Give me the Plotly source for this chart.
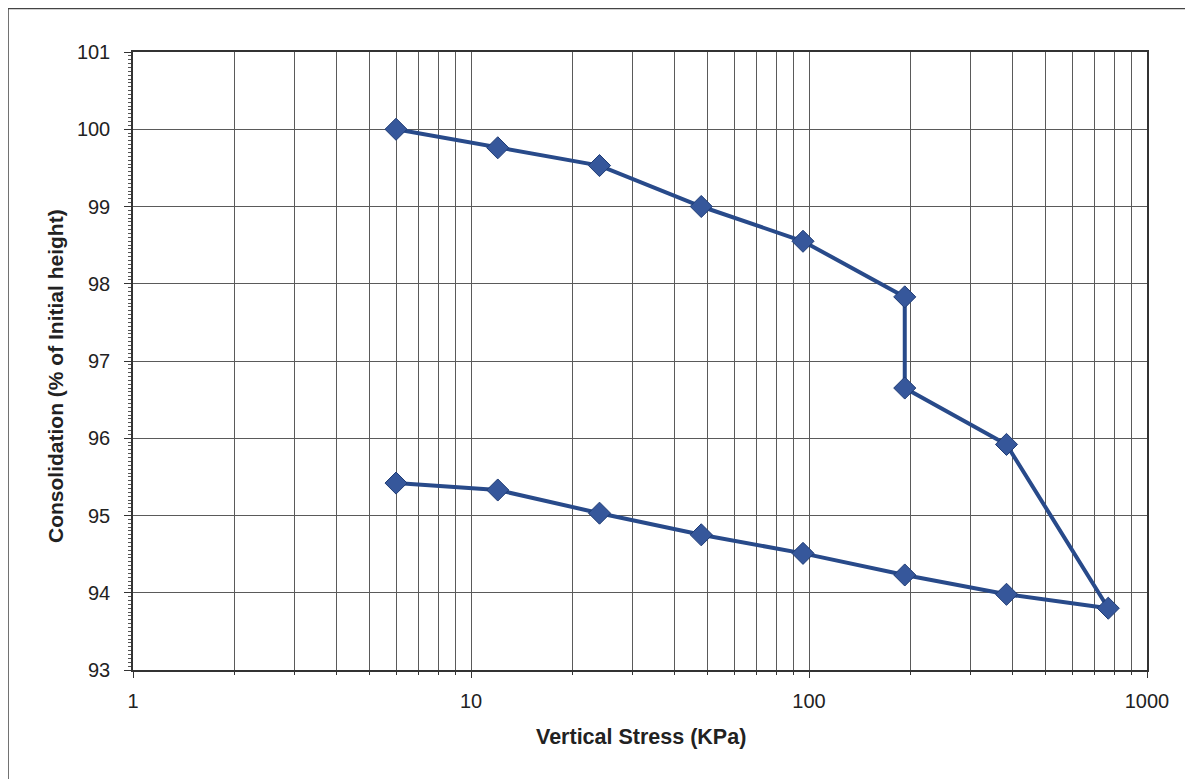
import plotly.graph_objects as go

stress = [6, 12, 24, 48, 96, 192, 192, 384, 768, 384, 192, 96, 48, 24, 12, 6]
consolidation = [100.0, 99.76, 99.53, 99.0, 98.55, 97.83, 96.65, 95.92, 93.8,
                 93.98, 94.23, 94.51, 94.75, 95.03, 95.33, 95.42]

x_major = [1, 10, 100, 1000]
x_minor = [2, 3, 4, 5, 6, 7, 8, 9, 20, 30, 40, 50, 60, 70, 80, 90,
           200, 300, 400, 500, 600, 700, 800, 900]
y_ticks = [93, 94, 95, 96, 97, 98, 99, 100, 101]

x_title = "Vertical Stress (KPa)"
y_title = "Consolidation (% of Initial height)"

# the page body adds an 8px offset; layout is in figure coordinates
W, H = 1193, 779
L, T = 125, 44
R = W - (1147 - 8)
B = H - (670 - 8)
pw, ph = W - L - R, H - T - B


def px_to_paper_x(px):
    return (px - 8 - L) / pw


def px_to_paper_y(py):
    return (H - B - (py - 8)) / ph


fig = go.Figure()
fig.add_trace(go.Scatter(
    x=stress, y=consolidation, mode="lines+markers",
    line=dict(color="#284A8A", width=4),
    marker=dict(symbol="diamond", size=17, color="#36579B",
                line=dict(color="#1F3C75", width=1)),
    showlegend=False,
))

grid = "#5a5a5a"
fig.update_layout(
    width=W, height=H,
    margin=dict(l=L, r=R, t=T, b=B),
    paper_bgcolor="white", plot_bgcolor="white",
    font=dict(family="Liberation Sans, Arial, sans-serif", size=20, color="#222"),
    xaxis=dict(
        type="log", range=[0, 3],
        tickmode="array", tickvals=x_major, ticktext=[str(v) for v in x_major],
        showgrid=True, gridcolor=grid, gridwidth=1,
        ticks="outside", ticklen=6, tickcolor="#333", ticklabelstandoff=6,
        showline=True, linecolor="#333", linewidth=1.5, mirror=True,
        minor=dict(tickmode="array", tickvals=x_minor, showgrid=True,
                   gridcolor=grid, gridwidth=1, ticks="outside", ticklen=3,
                   tickcolor="#333"),
        zeroline=False,
    ),
    yaxis=dict(
        range=[93, 101], tickmode="array", tickvals=y_ticks,
        showgrid=True, gridcolor=grid, gridwidth=1,
        ticks="outside", ticklen=7, tickcolor="#333", ticklabelstandoff=10,
        showline=True, linecolor="#333", linewidth=1.5, mirror=True,
        minor=dict(dtick=0.05, ticks="outside", ticklen=3, tickcolor="#555",
                   showgrid=False),
        zeroline=False,
    ),
    annotations=[
        dict(text="<b>" + x_title + "</b>", xref="paper", yref="paper",
             x=px_to_paper_x(641), y=px_to_paper_y(737),
             xanchor="center", yanchor="middle", showarrow=False,
             font=dict(size=21.5, color="#222")),
        dict(text="<b>" + y_title + "</b>", xref="paper", yref="paper",
             x=px_to_paper_x(55), y=px_to_paper_y(376), textangle=-90,
             xanchor="center", yanchor="middle", showarrow=False,
             font=dict(size=21, color="#222")),
    ],
)

# outer chart frame (cut off at right and bottom as in reference)
fig.add_shape(type="rect", xref="paper", yref="paper",
              x0=(0 - L) / pw, x1=(W + 20 - L) / pw,
              y0=(H - B - (H + 20)) / ph, y1=(H - B - 0.5) / ph,
              line=dict(color="#444", width=1.5), fillcolor="rgba(0,0,0,0)",
              layer="below")

fig.write_html("out.html")
